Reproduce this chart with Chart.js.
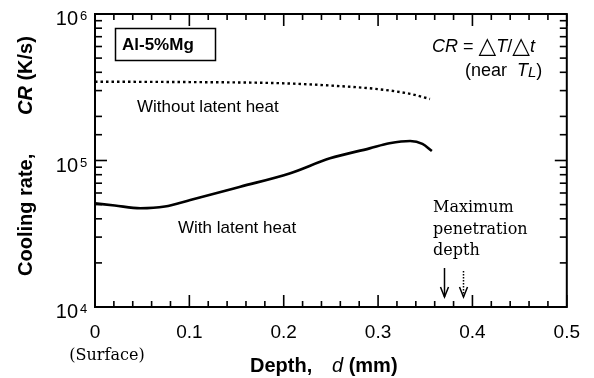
<!DOCTYPE html>
<html>
<head>
<meta charset="utf-8">
<script src="https://cdn.jsdelivr.net/npm/chart.js@4.4.0/dist/chart.umd.min.js"></script>
<style>
  html, body { margin: 0; padding: 0; background: #fff; }
</style>
</head>
<body>
<canvas id="myChart" width="594" height="378"></canvas>
<script>
// cooling rate CR (K/s) vs depth d (mm), Al-5%Mg
var depthWith = [0, 0.021, 0.048, 0.074, 0.101, 0.154, 0.207, 0.249, 0.291, 0.312, 0.334, 0.347, 0.357];
var rateWith = [51000, 49300, 47200, 48500, 53700, 66200, 81900, 103500, 121000, 131000, 136000, 130000, 116000];

var depthWithout = [0, 0.1, 0.196, 0.249, 0.302, 0.334, 0.355];
var rateWithout = [345000, 343000, 337000, 325000, 306000, 285000, 263000];

// maximum penetration depth: with latent heat (solid), without (dotted)
var penetrationDepth = [0.37, 0.39];

var yDecades = [4, 5, 6];

var SANS = '"Liberation Sans", Arial, sans-serif';
var SERIF = '"DejaVu Serif", serif';

function toPoints(xs, ys) {
    return xs.map(function (x, i) { return { x: x, y: ys[i] }; });
}

function isTenth(v) {
    return Math.abs(v * 10 - Math.round(v * 10)) < 1e-6;
}

function isDecade(v) {
    var l = Math.log10(v);
    return Math.abs(l - Math.round(l)) < 1e-9;
}

// draws a run of text pieces [text, font, dy] left to right
function textRun(ctx, parts, x, y) {
    parts.forEach(function (p) {
        ctx.font = p[1];
        ctx.fillText(p[0], x, y + (p[2] || 0));
        x += ctx.measureText(p[0]).width;
    });
}

// box with inward ticks on all four sides
var axesBox = {
    id: 'axesBox',
    afterDatasetsDraw: function (chart) {
        var ctx = chart.ctx, a = chart.chartArea;
        var xs = chart.scales.x, ys = chart.scales.y;
        ctx.save();
        ctx.fillStyle = '#000';
        var w = 1.6;
        xs.ticks.forEach(function (t) {
            var px = xs.getPixelForValue(t.value) - w / 2;
            var len = isTenth(t.value) ? 12 : 6;
            ctx.fillRect(px, a.bottom - len, w, len);
            ctx.fillRect(px, a.top, w, len);
        });
        ys.ticks.forEach(function (t) {
            var py = ys.getPixelForValue(t.value) - w / 2;
            var len = isDecade(t.value) ? 12 : 7;
            ctx.fillRect(a.left, py, len, w);
            ctx.fillRect(a.right - len, py, len, w);
        });
        ctx.strokeStyle = '#000';
        ctx.lineWidth = 2;
        ctx.strokeRect(a.left, a.top, a.right - a.left, a.bottom - a.top);
        ctx.restore();
    }
};

var notes = {
    id: 'notes',
    afterDraw: function (chart) {
        var ctx = chart.ctx, a = chart.chartArea;
        var xs = chart.scales.x, ys = chart.scales.y;
        ctx.save();
        ctx.strokeStyle = '#000';
        ctx.fillStyle = '#000';

        // y labels 10^n
        yDecades.forEach(function (e) {
            var py = ys.getPixelForValue(Math.pow(10, e));
            ctx.textAlign = 'right';
            ctx.textBaseline = 'alphabetic';
            ctx.font = '20px ' + SANS;
            ctx.fillText('10', 78, py + 11);
            ctx.textAlign = 'left';
            ctx.font = '13px ' + SANS;
            ctx.fillText(String(e), 80, py + 6);
        });

        // axis titles
        ctx.textAlign = 'left';
        ctx.textBaseline = 'alphabetic';
        textRun(ctx, [['Depth,', 'bold 20px ' + SANS]], 250, 372);
        textRun(ctx, [['d', 'italic 20px ' + SANS], [' (mm)', 'bold 20px ' + SANS]], 332, 372);
        ctx.font = '16px ' + SERIF;
        ctx.textAlign = 'center';
        ctx.fillText('(Surface)', 107, 360);

        ctx.save();
        ctx.translate(32, 276);
        ctx.rotate(-Math.PI / 2);
        ctx.textAlign = 'left';
        textRun(ctx, [['Cooling rate,', 'bold 20px ' + SANS]], 0, 0);
        textRun(ctx, [['CR', 'bold italic 20px ' + SANS], [' (K/s)', 'bold 20px ' + SANS]], 161, 0);
        ctx.restore();

        // alloy box
        ctx.lineWidth = 1.5;
        ctx.strokeRect(115.5, 28.5, 100, 32);
        ctx.textAlign = 'left';
        ctx.font = 'bold 17px ' + SANS;
        ctx.fillText('Al-5%Mg', 122, 50);

        // curve labels
        ctx.font = '17px ' + SANS;
        ctx.fillText('Without latent heat', 137, 112);
        ctx.fillText('With latent heat', 178, 233);

        // definition of CR
        textRun(ctx, [
            ['CR', 'italic 18px ' + SANS], [' = ', '18px ' + SANS], ['\u25B3', '23px "DejaVu Sans"', 1],
            ['T', 'italic 18px ' + SANS], ['/', '18px ' + SANS], ['\u25B3', '23px "DejaVu Sans"', 1],
            ['t', 'italic 18px ' + SANS]
        ], 432, 52);
        textRun(ctx, [
            ['(near  ', '18px ' + SANS], ['T', 'italic 18px ' + SANS],
            ['L', 'italic 15px ' + SANS, 1], [')', '18px ' + SANS]
        ], 465, 76);

        // penetration depth note and arrows
        ctx.font = '16px ' + SERIF;
        ctx.fillText('Maximum', 433, 212);
        ctx.fillText('penetration', 433, 234);
        ctx.fillText('depth', 433, 255);

        penetrationDepth.forEach(function (d, i) {
            var px = Math.round(xs.getPixelForValue(d)) + 0.5;
            var tip = a.bottom - 10;
            ctx.lineWidth = 1.5;
            ctx.setLineDash(i === 0 ? [] : [1.5, 1.5]);
            ctx.beginPath();
            ctx.moveTo(px, i === 0 ? 268 : 271);
            ctx.lineTo(px, tip);
            ctx.stroke();
            ctx.setLineDash([]);
            ctx.beginPath();
            ctx.moveTo(px - 4, tip - 10);
            ctx.lineTo(px, tip);
            ctx.lineTo(px + 4, tip - 10);
            ctx.stroke();
        });

        ctx.restore();
    }
};

var chart = new Chart(document.getElementById('myChart'), {
    type: 'line',
    data: {
        datasets: [{
            label: 'Without latent heat',
            data: toPoints(depthWithout, rateWithout),
            borderColor: '#000',
            borderWidth: 2.4,
            borderDash: [2.5, 3],
            pointRadius: 0,
            cubicInterpolationMode: 'monotone',
            fill: false
        }, {
            label: 'With latent heat',
            data: toPoints(depthWith, rateWith),
            borderColor: '#000',
            borderWidth: 2.6,
            pointRadius: 0,
            cubicInterpolationMode: 'monotone',
            fill: false
        }]
    },
    options: {
        responsive: false,
        animation: false,
        devicePixelRatio: 1,
        layout: { padding: { left: 0, right: 27, top: 14, bottom: 0 } },
        plugins: { legend: { display: false }, tooltip: { enabled: false } },
        scales: {
            x: {
                type: 'linear',
                min: 0,
                max: 0.5,
                grid: { display: false, drawTicks: false },
                border: { display: false },
                ticks: {
                    stepSize: 0.02,
                    maxTicksLimit: 100,
                    autoSkip: false,
                    maxRotation: 0,
                    padding: 14,
                    color: '#000',
                    font: { family: SANS, size: 19 },
                    callback: function (v) {
                        return isTenth(v) ? String(Math.round(v * 10) / 10) : '';
                    }
                },
                afterFit: function (s) { s.height = 71; }
            },
            y: {
                type: 'logarithmic',
                min: 1e4,
                max: 1e6,
                grid: { display: false, drawTicks: false },
                border: { display: false },
                ticks: { display: false },
                afterFit: function (s) { s.width = 95; }
            }
        }
    },
    plugins: [axesBox, notes]
});
</script>
</body>
</html>
